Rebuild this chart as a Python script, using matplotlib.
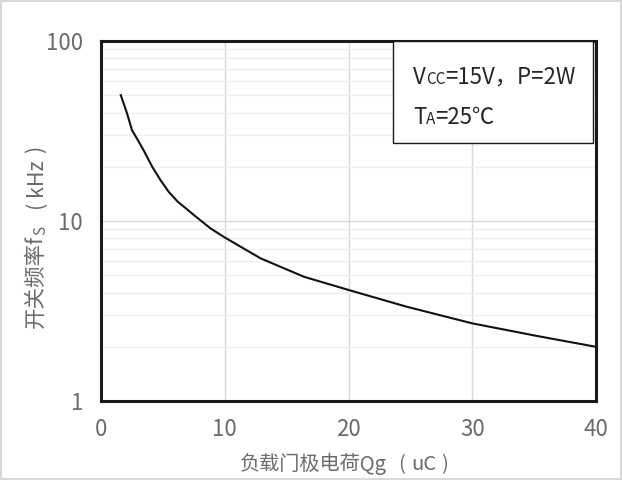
import matplotlib
matplotlib.use("Agg")
import matplotlib.pyplot as plt
from matplotlib.transforms import IdentityTransform
from matplotlib.patches import Rectangle

plt.rcParams['font.family'] = ['Noto Sans CJK SC', 'DejaVu Sans']

# ---- data ----
qg = [1.6, 2.1, 2.5, 3.05, 3.5, 4.14, 4.8, 5.48, 6.2, 6.83, 7.5, 8.85, 10,
      12.9, 16.4, 20, 24.7, 30, 35.2, 40]
fs = [50, 39.7, 32, 27.6, 24.3, 20, 16.9, 14.5, 12.8, 11.8, 10.8, 9.1, 8.1,
      6.2, 4.9, 4.14, 3.34, 2.7, 2.3, 2.0]
x_ticks = [0, 10, 20, 30, 40]
x_ticklabels = ["0", "10", "20", "30", "40"]
y_ticks = [1, 10, 100]
y_ticklabels = ["1", "10", "100"]

W, H = 622, 480
fig = plt.figure(figsize=(W / 100, H / 100), dpi=100)
fig.patch.set_facecolor('white')
fig.patch.set_edgecolor('#d9d9d9')
fig.patch.set_linewidth(1.5)

L, R, T, B = 101, 596, 41, 401
ax = fig.add_axes([L / W, 1 - B / H, (R - L) / W, (B - T) / H])
ax.set_yscale('log')
ax.set_xlim(0, 40)
ax.set_ylim(1, 100)

ax.plot(qg, fs, color='#111111', lw=1.5, zorder=3, solid_joinstyle='round')

ax.set_xticks(x_ticks)
ax.set_xticklabels(x_ticklabels)
ax.set_yticks(y_ticks)
ax.set_yticklabels(y_ticklabels)
ax.set_yticks([v * m for m in (1, 10) for v in range(2, 10)], minor=True)
ax.yaxis.set_minor_formatter(plt.NullFormatter())
ax.tick_params(which='both', length=0)
ax.tick_params(axis='y', pad=13, labelsize=16, labelcolor='#6b6b6b')
ax.tick_params(axis='x', pad=12.5, labelsize=16, labelcolor='#6b6b6b')

ax.grid(True, which='major', axis='both', color='#d9d9d9', lw=1.0, zorder=0)
ax.grid(True, which='minor', axis='y', color='#efefef', lw=1.0, zorder=0)
ax.set_axisbelow(True)
for s in ax.spines.values():
    s.set_linewidth(2.2)
    s.set_color('#1a1a1a')
    s.set_zorder(5)

# legend box
bx0, bx1, by0, by1 = 393, 593, 41, 143
box = Rectangle((bx0, H - by1), bx1 - bx0, by1 - by0, transform=IdentityTransform(),
                facecolor='white', edgecolor='#1a1a1a', lw=1.0, zorder=6)
fig.add_artist(box)

renderer = fig.canvas.get_renderer()


def measure(pieces):
    total = 0
    for txt, size, dy, gap in pieces:
        t = fig.text(0, 0, txt, transform=IdentityTransform(), fontsize=size)
        ext = t.get_window_extent(renderer)
        t.remove()
        total += gap + ext.width
    return total


def chain(x, y, pieces, color, rotation=0):
    for txt, size, dy, gap in pieces:
        if rotation == 0:
            x += gap
            t = fig.text(x, y - dy, txt, transform=IdentityTransform(), fontsize=size,
                         color=color, ha='left', va='baseline', zorder=7)
            ext = t.get_window_extent(renderer)
            x += ext.width
        else:
            y += gap
            t = fig.text(x + dy, y, txt, transform=IdentityTransform(), fontsize=size,
                         color=color, ha='left', va='baseline', rotation=90,
                         rotation_mode='anchor', zorder=7)
            ext = t.get_window_extent(renderer)
            y += ext.height


leg_color = '#262626'
chain(413, H - 84, [("V", 16, 0, 0), ("CC", 11, 0, 0), ("=15V，P=2W", 16, 0, 0)], leg_color)
chain(413, H - 124, [("T", 16, 0, 0), ("A", 11, 0, 0), ("=25℃", 16, 0, 0)], leg_color)

# y label
label_color = '#6b6b6b'
chain(42, H - 328, [("开关频率f", 15.5, 0, 0), ("S", 11, 3, 0), ("(", 15.5, 0, 18),
                    ("kHz", 15.5, 0, 5), (")", 15.5, 0, 5)],
      label_color, rotation=90)

# x label
xl_pieces = [("负载门极电荷Qg", 14.5, 0, 0), ("(", 14.5, 0, 12), ("uC", 14.5, 0, 6),
             (")", 14.5, 0, 5)]
xw = measure(xl_pieces)
chain(344 - xw / 2, H - 470, xl_pieces, label_color)

fig.savefig("out.png", dpi=100, facecolor=fig.get_facecolor(), edgecolor=fig.get_edgecolor())
